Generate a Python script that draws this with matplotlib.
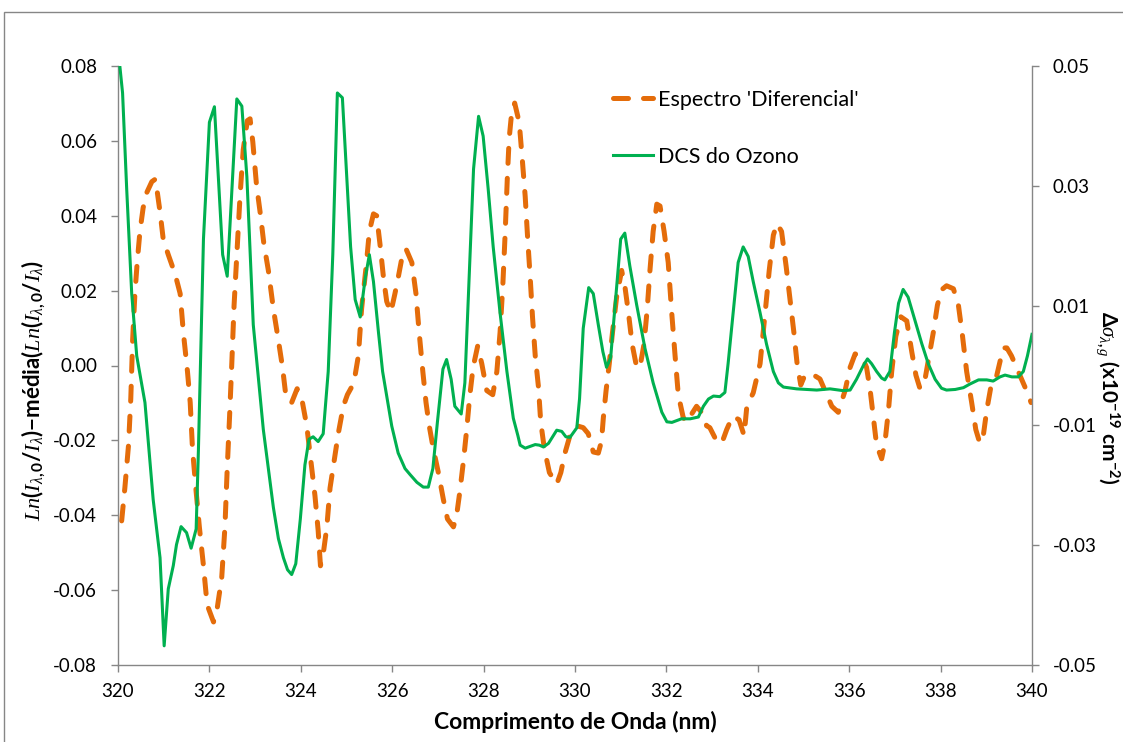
import matplotlib
matplotlib.use("Agg")
import matplotlib.pyplot as plt
from matplotlib.patches import Rectangle

# ---- data ----
wl_diff = [320.08, 320.15, 320.23, 320.28, 320.32, 320.37, 320.42, 320.48, 320.55, 320.63,
           320.74, 320.82, 320.92, 320.99, 321.10, 321.25, 321.36, 321.43, 321.52, 321.58,
           321.63, 321.71, 321.78, 321.87, 321.95, 322.09, 322.17, 322.27, 322.34, 322.39,
           322.44, 322.49, 322.54, 322.60, 322.67, 322.74, 322.83, 322.89, 322.95, 323.03,
           323.12, 323.19, 323.29, 323.40, 323.51, 323.60, 323.68, 323.80, 323.92, 324.02,
           324.13, 324.22, 324.31, 324.38, 324.43, 324.49, 324.57, 324.64, 324.73, 324.82,
           324.93, 325.02, 325.16, 325.26, 325.33, 325.43, 325.50, 325.59, 325.66, 325.73,
           325.81, 325.88, 325.97, 326.06, 326.13, 326.21, 326.30, 326.43, 326.52, 326.59,
           326.67, 326.74, 326.81, 326.90, 327.01, 327.12, 327.21, 327.34, 327.41, 327.48,
           327.56, 327.63, 327.70, 327.77, 327.87, 327.96, 328.07, 328.20, 328.29, 328.36,
           328.42, 328.47, 328.52, 328.56, 328.61, 328.68, 328.78, 328.85, 328.91, 328.96,
           329.02, 329.07, 329.13, 329.20, 329.25, 329.33, 329.44, 329.60, 329.69, 329.78,
           329.89, 330.04, 330.18, 330.29, 330.40, 330.51, 330.58, 330.62, 330.68, 330.75,
           330.82, 330.91, 331.02, 331.09, 331.17, 331.25, 331.35, 331.42, 331.51, 331.58,
           331.64, 331.71, 331.79, 331.86, 331.95, 332.04, 332.11, 332.19, 332.26, 332.37,
           332.46, 332.55, 332.66, 332.77, 332.88, 332.95, 333.10, 333.21, 333.32, 333.45,
           333.59, 333.70, 333.76, 333.90, 334.05, 334.16, 334.25, 334.34, 334.42, 334.52,
           334.62, 334.70, 334.79, 334.86, 334.94, 335.03, 335.13, 335.23, 335.36, 335.47,
           335.62, 335.76, 335.91, 336.02, 336.13, 336.27, 336.38, 336.46, 336.53, 336.60,
           336.71, 336.78, 336.86, 336.93, 337.02, 337.13, 337.26, 337.37, 337.46, 337.55,
           337.66, 337.75, 337.84, 337.93, 338.02, 338.13, 338.28, 338.39, 338.48, 338.57,
           338.68, 338.77, 338.86, 338.94, 339.01, 339.10, 339.23, 339.37, 339.45, 339.55,
           339.66, 339.77, 339.88, 339.98]
espectro_diff = [-0.0415, -0.0327, -0.0213, -0.0088, 0.0067, 0.0192, 0.0275, 0.0358, 0.0421, 0.0462,
                 0.0491, 0.0498, 0.0410, 0.0337, 0.0296, 0.0244, 0.0192, 0.0088, -0.0016, -0.0099,
                 -0.0223, -0.0337, -0.0431, -0.0535, -0.0639, -0.0685, -0.0649, -0.0566, -0.0431, -0.0275,
                 -0.0140, 0.0005, 0.0161, 0.0296, 0.0452, 0.0576, 0.0654, 0.0659, 0.0597, 0.0483,
                 0.0400, 0.0327, 0.0254, 0.0151, 0.0067, -0.0005, -0.0088, -0.0099, -0.0062, -0.0088,
                 -0.0161, -0.0254, -0.0348, -0.0441, -0.0535, -0.0504, -0.0431, -0.0327, -0.0254, -0.0182,
                 -0.0109, -0.0078, -0.0047, 0.0026, 0.0151, 0.0265, 0.0358, 0.0405, 0.0400, 0.0327,
                 0.0234, 0.0171, 0.0142, 0.0192, 0.0234, 0.0286, 0.0312, 0.0275, 0.0192, 0.0088,
                 -0.0016, -0.0099, -0.0161, -0.0223, -0.0286, -0.0358, -0.0410, -0.0431, -0.0400, -0.0337,
                 -0.0254, -0.0171, -0.0078, -0.0005, 0.0052, 0.0005, -0.0067, -0.0078, -0.0016, 0.0088,
                 0.0213, 0.0348, 0.0504, 0.0607, 0.0670, 0.0701, 0.0649, 0.0545, 0.0452, 0.0348,
                 0.0234, 0.0130, 0.0026, -0.0057, -0.0151, -0.0223, -0.0286, -0.0317, -0.0286, -0.0234,
                 -0.0187, -0.0161, -0.0166, -0.0182, -0.0231, -0.0234, -0.0202, -0.0140, -0.0067, 0.0005,
                 0.0088, 0.0182, 0.0254, 0.0213, 0.0140, 0.0057, -0.0005, -0.0005, 0.0057, 0.0151,
                 0.0254, 0.0358, 0.0431, 0.0426, 0.0358, 0.0275, 0.0151, 0.0026, -0.0078, -0.0140,
                 -0.0151, -0.0130, -0.0109, -0.0125, -0.0161, -0.0166, -0.0202, -0.0208, -0.0171, -0.0135,
                 -0.0145, -0.0187, -0.0109, -0.0073, 0.0005, 0.0140, 0.0254, 0.0348, 0.0379, 0.0358,
                 0.0265, 0.0182, 0.0088, 0.0005, -0.0052, -0.0026, -0.0021, -0.0026, -0.0036, -0.0067,
                 -0.0109, -0.0125, -0.0067, -0.0005, 0.0031, 0.0026, -0.0005, -0.0067, -0.0140, -0.0213,
                 -0.0249, -0.0208, -0.0119, -0.0016, 0.0078, 0.0130, 0.0119, 0.0036, -0.0026, -0.0062,
                 -0.0036, 0.0026, 0.0088, 0.0161, 0.0202, 0.0213, 0.0205, 0.0161, 0.0078, -0.0016,
                 -0.0099, -0.0171, -0.0208, -0.0182, -0.0119, -0.0057, -0.0026, 0.0047, 0.0047, 0.0026,
                 -0.0005, -0.0036, -0.0067, -0.0099]

wl_dcs = [320.04, 320.10, 320.19, 320.30, 320.41, 320.59, 320.77, 320.92, 321.01, 321.10,
          321.21, 321.28, 321.38, 321.50, 321.60, 321.71, 321.76, 321.87, 322.00, 322.11,
          322.29, 322.39, 322.47, 322.60, 322.71, 322.82, 322.96, 323.18, 323.40, 323.51,
          323.62, 323.71, 323.80, 323.89, 323.99, 324.09, 324.18, 324.27, 324.38, 324.49,
          324.60, 324.70, 324.80, 324.91, 325.00, 325.09, 325.19, 325.30, 325.41, 325.50,
          325.59, 325.70, 325.79, 325.99, 326.13, 326.28, 326.39, 326.54, 326.68, 326.79,
          326.89, 326.99, 327.11, 327.19, 327.29, 327.37, 327.51, 327.59, 327.67, 327.78,
          327.89, 327.99, 328.10, 328.21, 328.36, 328.51, 328.65, 328.75, 328.80, 328.91,
          329.13, 329.22, 329.31, 329.42, 329.60, 329.71, 329.80, 329.89, 330.04, 330.10,
          330.18, 330.30, 330.40, 330.51, 330.61, 330.69, 330.78, 330.90, 331.00, 331.09,
          331.20, 331.35, 331.53, 331.71, 331.90, 332.01, 332.12, 332.33, 332.52, 332.70,
          332.81, 332.92, 333.03, 333.17, 333.28, 333.35, 333.46, 333.57, 333.68, 333.79,
          333.90, 334.05, 334.19, 334.34, 334.45, 334.56, 334.85, 335.29, 335.58, 335.87,
          336.02, 336.16, 336.31, 336.40, 336.49, 336.60, 336.71, 336.78, 336.89, 336.99,
          337.08, 337.18, 337.29, 337.44, 337.59, 337.73, 337.88, 338.02, 338.13, 338.32,
          338.50, 338.64, 338.83, 339.01, 339.15, 339.30, 339.41, 339.56, 339.70, 339.81,
          339.90, 340.00]
dcs_ozono = [0.0500, 0.0455, 0.0295, 0.0120, 0.0016, -0.0062, -0.0224, -0.0321, -0.0468, -0.0373,
             -0.0334, -0.0299, -0.0269, -0.0279, -0.0305, -0.0273, -0.0140, 0.0211, 0.0406, 0.0432,
             0.0185, 0.0149, 0.0263, 0.0445, 0.0433, 0.0315, 0.0068, -0.0107, -0.0237, -0.0289,
             -0.0321, -0.0341, -0.0349, -0.0331, -0.0256, -0.0166, -0.0123, -0.0119, -0.0127, -0.0114,
             -0.0010, 0.0185, 0.0455, 0.0447, 0.0321, 0.0198, 0.0110, 0.0081, 0.0146, 0.0185,
             0.0140, 0.0055, -0.0010, -0.0101, -0.0146, -0.0172, -0.0182, -0.0195, -0.0203, -0.0203,
             -0.0172, -0.0094, -0.0006, 0.0010, -0.0023, -0.0068, -0.0081, -0.0029, 0.0120, 0.0328,
             0.0416, 0.0383, 0.0295, 0.0198, 0.0088, -0.0010, -0.0088, -0.0117, -0.0133, -0.0138,
             -0.0132, -0.0133, -0.0136, -0.0130, -0.0108, -0.0110, -0.0119, -0.0120, -0.0104, -0.0055,
             0.0062, 0.0130, 0.0120, 0.0068, 0.0023, -0.0003, 0.0013, 0.0120, 0.0211, 0.0221,
             0.0166, 0.0101, 0.0029, -0.0029, -0.0078, -0.0094, -0.0095, -0.0089, -0.0089, -0.0086,
             -0.0068, -0.0056, -0.0051, -0.0052, -0.0045, 0.0003, 0.0088, 0.0172, 0.0198, 0.0182,
             0.0140, 0.0088, 0.0036, -0.0010, -0.0029, -0.0036, -0.0039, -0.0041, -0.0039, -0.0042,
             -0.0041, -0.0023, 0.0000, 0.0011, 0.0003, -0.0010, -0.0021, -0.0024, -0.0010, 0.0055,
             0.0104, 0.0127, 0.0114, 0.0075, 0.0036, 0.0003, -0.0023, -0.0038, -0.0041, -0.0040,
             -0.0037, -0.0031, -0.0024, -0.0024, -0.0026, -0.0019, -0.0016, -0.0019, -0.0019, -0.0010,
             0.0016, 0.0052]

left_ticks = [-0.08, -0.06, -0.04, -0.02, 0.00, 0.02, 0.04, 0.06, 0.08]
right_ticks = [-0.05, -0.03, -0.01, 0.01, 0.03, 0.05]
x_ticks = [320, 322, 324, 326, 328, 330, 332, 334, 336, 338, 340]

# ---- style ----
plt.rcParams['font.family'] = ['Lato', 'DejaVu Sans']
plt.rcParams['mathtext.fontset'] = 'custom'
plt.rcParams['mathtext.rm'] = 'Lato:bold'
plt.rcParams['mathtext.bf'] = 'Lato:bold'
plt.rcParams['mathtext.it'] = 'Liberation Serif:italic'
plt.rcParams['axes.unicode_minus'] = False

orange = '#E46C0A'
green = '#00B050'
grey = '#868686'

fig = plt.figure(figsize=(11.23, 7.42), dpi=100)
W, H = 1123.0, 742.0
ax = fig.add_axes([118/W, 1-665/H, (1032-118)/W, (665-66)/H])
ax2 = ax.twinx()

l1, = ax.plot(wl_diff, espectro_diff, color=orange, lw=3.6, dashes=(3, 3),
              dash_capstyle='round', label="Espectro 'Diferencial'")
l2, = ax2.plot(wl_dcs, dcs_ozono, color=green, lw=2.2, label='DCS do Ozono')

ax.set_xlim(320, 340)
ax.set_ylim(-0.08, 0.08)
ax2.set_ylim(-0.05, 0.05)
ax.set_xticks(x_ticks)
ax.set_xticklabels([str(t) for t in x_ticks])
ax.set_yticks(left_ticks)
ax.set_yticklabels([f"{t:.2f}" for t in left_ticks])
ax2.set_yticks(right_ticks)
ax2.set_yticklabels([f"{t:.2f}" for t in right_ticks])

for a in (ax, ax2):
    for s in a.spines.values():
        s.set_color(grey)
        s.set_linewidth(1)
    a.spines['top'].set_visible(False)
ax.spines['right'].set_visible(False)
ax2.spines['left'].set_visible(False)
ax2.spines['bottom'].set_visible(False)

ax.tick_params(axis='x', length=5, width=1, color=grey, labelsize=13.5, pad=8)
ax.tick_params(axis='y', length=5, width=1, color=grey, labelsize=13.5, pad=10)
ax2.tick_params(axis='y', length=5, width=1, color=grey, labelsize=13.5, pad=10)

fig.legend([l1, l2], [l1.get_label(), l2.get_label()], loc='upper left',
           bbox_to_anchor=(613/W, 1-90/H), frameon=False, fontsize=15.5,
           handlelength=1.86, handletextpad=0.25, labelspacing=1.7,
           borderpad=0, borderaxespad=0)

fig.text(575/W, 1-722/H, 'Comprimento de Onda (nm)', ha='center', va='center',
         fontsize=16.5, fontweight='bold')
fig.text(33/W, 1-390/H,
         r'$Ln(I_{\lambda,0}/I_{\lambda})$' + '\u2212média(' + r'$Ln(I_{\lambda,0}/I_{\lambda})$',
         rotation=90, ha='center', va='center', fontsize=16, fontweight='bold')
fig.text(1108/W, 1-398/H, r'Δ$\sigma_{\lambda,g}$ (x10$^{-19}$ cm$^{-2}$)',
         rotation=270, ha='center', va='center', fontsize=15, fontweight='bold')

# chart area border (cut by the image edges)
fig.patches.append(Rectangle((3.5/W, -0.05), 1.2, 1.05 - 11.5/H, transform=fig.transFigure,
                             fill=False, edgecolor=grey, lw=1))

fig.savefig('out.png', dpi=100)
